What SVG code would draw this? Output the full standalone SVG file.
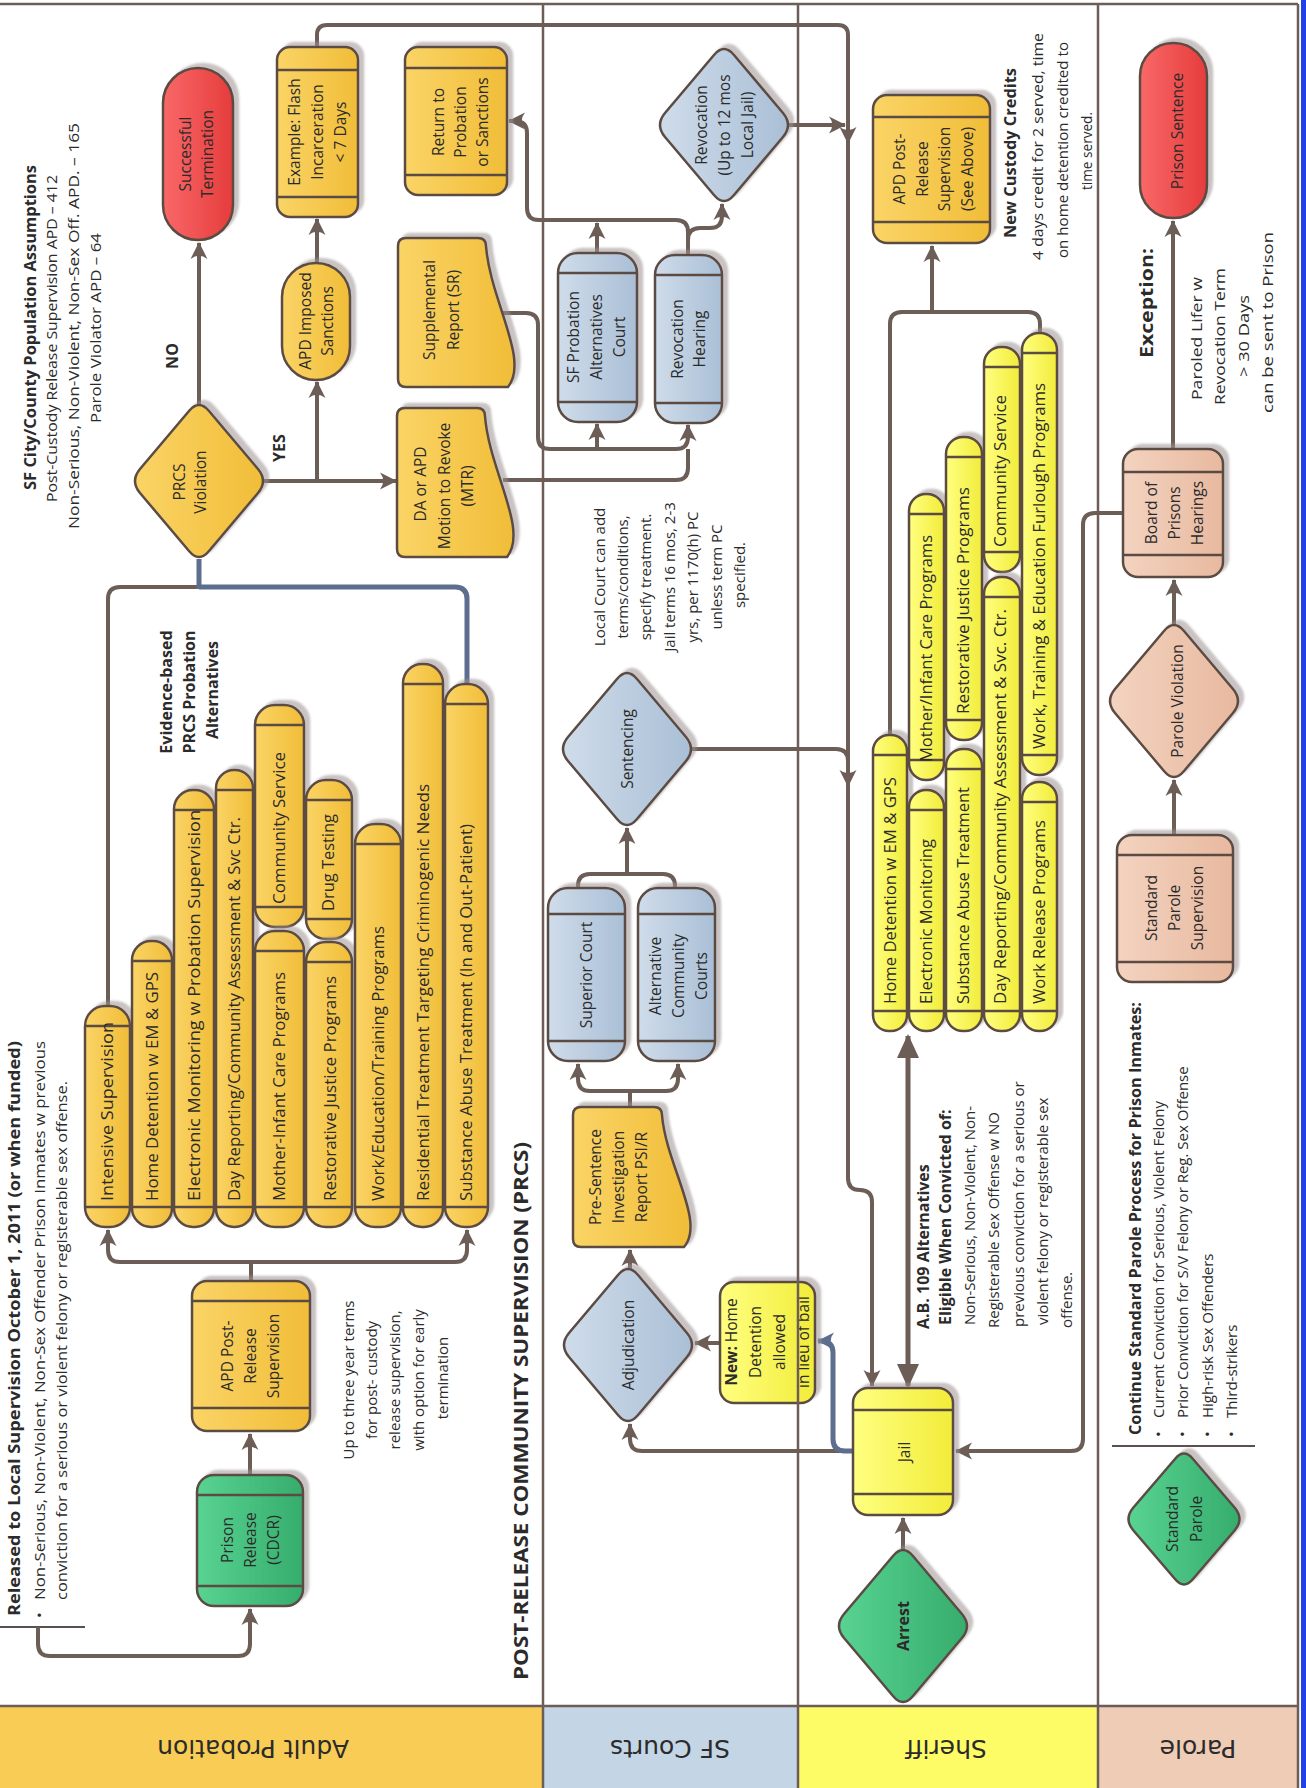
<svg xmlns="http://www.w3.org/2000/svg" width="1306" height="1788" viewBox="0 0 1306 1788">
<defs>
<linearGradient id="gGold" x1="0" y1="0" x2="1" y2="0"><stop offset="0" stop-color="#FAD466"/><stop offset="1" stop-color="#F1BD38"/></linearGradient>
<linearGradient id="gBlue" x1="0" y1="0" x2="1" y2="0"><stop offset="0" stop-color="#CFDCEA"/><stop offset="1" stop-color="#AABFD6"/></linearGradient>
<linearGradient id="gYel" x1="0" y1="0" x2="1" y2="0"><stop offset="0" stop-color="#FFFF80"/><stop offset="1" stop-color="#F2EC3A"/></linearGradient>
<linearGradient id="gPeach" x1="0" y1="0" x2="1" y2="0"><stop offset="0" stop-color="#F3D3C0"/><stop offset="1" stop-color="#E8B99F"/></linearGradient>
<linearGradient id="gGreen" x1="0" y1="0" x2="1" y2="0"><stop offset="0" stop-color="#58D392"/><stop offset="1" stop-color="#36AD6C"/></linearGradient>
<linearGradient id="gRed" x1="0" y1="0" x2="1" y2="0"><stop offset="0" stop-color="#F96868"/><stop offset="1" stop-color="#E63C3C"/></linearGradient>
<filter id="sh" x="-20%" y="-20%" width="140%" height="140%"><feDropShadow dx="5" dy="-4" stdDeviation="1.2" flood-color="#9d9191" flood-opacity="0.55"/></filter>
<marker id="ah" viewBox="0 0 18 20" refX="17" refY="10" markerWidth="17" markerHeight="19" markerUnits="userSpaceOnUse" orient="auto"><path d="M0,1 L18,10 L0,19 Q7,10 0,1Z" fill="#6c5d57"/></marker>
<marker id="ahb" viewBox="0 0 18 20" refX="17" refY="10" markerWidth="17" markerHeight="19" markerUnits="userSpaceOnUse" orient="auto"><path d="M0,1 L18,10 L0,19 Q7,10 0,1Z" fill="#5d6d8d"/></marker>
<marker id="tri" viewBox="0 0 24 22" refX="22" refY="11" markerWidth="24" markerHeight="22" markerUnits="userSpaceOnUse" orient="auto-start-reverse"><path d="M0,0 L24,11 L0,22Z" fill="#6c5d57"/></marker>
<path id="dia" d="M10,-70 L59,-12 Q69,0 59,12 L10,70 Q0,82 -10,70 L-59,12 Q-69,0 -59,-12 L-10,-70 Q0,-82 10,-70Z"/>
<path id="diaS" d="M9,-60 L51,-11 Q60,0 51,11 L9,60 Q0,71 -9,60 L-51,11 Q-60,0 -51,-11 L-9,-60 Q0,-71 9,-60Z"/>
</defs>
<style>
.t{font-family:"Open Sans","Liberation Sans",sans-serif;font-size:15.5px;fill:#2b2b2b}
.f{font-size:15px}
.bt{font-size:16px}
.m{text-anchor:middle}
.b{font-weight:bold;font-size:16px}
.s{stroke:#5b4b43;stroke-width:2.5}
.gold{fill:url(#gGold)}
.blue{fill:url(#gBlue)}
.yel{fill:url(#gYel)}
.peach{fill:url(#gPeach)}
.green{fill:url(#gGreen)}
.red{fill:url(#gRed)}
.sh{filter:url(#sh)}
.bar{stroke:#5b4b43;stroke-width:2.5;fill:none}
.c{fill:none;stroke:#6c5d57;stroke-width:4}
.a{marker-end:url(#ah)}
.cb{fill:none;stroke:#5d6d8d;stroke-width:5}
.ln{fill:none;stroke:#6c5d57;stroke-width:2.5}
.lbl{font-family:"DejaVu Sans",Verdana,sans-serif;font-size:25px;fill:#2b2b2b;text-anchor:middle}
</style>
<rect x="0" y="0" width="1306" height="1788" fill="#ffffff"/>
<g id="lane-bands">
<rect x="0" y="1706" width="543" height="82" fill="#F9CD55"/>
<rect x="543" y="1706" width="255" height="82" fill="#C4D5E6"/>
<rect x="798" y="1706" width="300" height="82" fill="#FDFC66"/>
<rect x="1098" y="1706" width="200" height="82" fill="#EFCCB6"/>
<text class="lbl" transform="translate(253,1749) rotate(180)" y="9">Adult Probation</text>
<text class="lbl" transform="translate(670,1749) rotate(180)" y="9">SF Courts</text>
<text class="lbl" transform="translate(946,1749) rotate(180)" y="9">Sheriff</text>
<text class="lbl" transform="translate(1198,1749) rotate(180)" y="9">Parole</text>
</g>

<g id="notes">
<text class="t b" transform="rotate(-90)" x="-490" y="36" textLength="325" lengthAdjust="spacingAndGlyphs">SF City/County Population Assumptions</text>
<text class="t f" transform="rotate(-90)" x="-502" y="57" textLength="327" lengthAdjust="spacingAndGlyphs">Post-Custody Release Supervision APD – 412</text>
<text class="t f" transform="rotate(-90)" x="-529" y="79" textLength="406" lengthAdjust="spacingAndGlyphs">Non-Serious, Non-Violent, Non-Sex Off. APD. – 165</text>
<text class="t f" transform="rotate(-90)" x="-423" y="101" textLength="190" lengthAdjust="spacingAndGlyphs">Parole Violator APD – 64</text>
<text class="t m b" transform="rotate(-90)" x="-356" y="178">NO</text>
<text class="t m b" transform="rotate(-90)" x="-448" y="285">YES</text>
<text class="t m b" transform="rotate(-90)">
<tspan x="-690" y="172">Evidence-based</tspan>
<tspan x="-690" y="195">PRCS Probation</tspan>
<tspan x="-690" y="218">Alternatives</tspan>
</text>
<text class="t m f" transform="rotate(-90)">
<tspan x="-575" y="605">Local Court can add</tspan>
<tspan x="-575" y="628">terms/conditions,</tspan>
<tspan x="-575" y="651">specify treatment.</tspan>
<tspan x="-575" y="675">Jail terms 16 mos, 2-3</tspan>
<tspan x="-575" y="698">yrs, per 1170(h) PC</tspan>
<tspan x="-575" y="722">unless term PC</tspan>
<tspan x="-575" y="745">specified.</tspan>
</text>
<text class="t b" transform="rotate(-90)" x="-1680" y="528" style="font-size:20px" textLength="538" lengthAdjust="spacingAndGlyphs">POST-RELEASE COMMUNITY SUPERVISION (PRCS)</text>
<text class="t m f" transform="rotate(-90)">
<tspan x="-1378" y="354">Up to three year terms</tspan>
<tspan x="-1378" y="377">for post- custody</tspan>
<tspan x="-1378" y="400">release supervision,</tspan>
<tspan x="-1378" y="424">with option for early</tspan>
<tspan x="-1378" y="448">termination</tspan>
</text>
<text class="t b" transform="rotate(-90)" x="-1616" y="20" textLength="575" lengthAdjust="spacingAndGlyphs">Released to Local Supervision October 1, 2011 (or when funded)</text>
<text class="t f" transform="rotate(-90)" x="-1618" y="45">•</text>
<text class="t f" transform="rotate(-90)" x="-1600" y="45" textLength="559" lengthAdjust="spacingAndGlyphs">Non-Serious, Non-Violent, Non-Sex Offender Prison Inmates w previous</text>
<text class="t f" transform="rotate(-90)" x="-1600" y="67" textLength="519" lengthAdjust="spacingAndGlyphs">conviction for a serious or violent felony or registerable sex offense.</text>
<text class="t b" transform="rotate(-90)" x="-238" y="1016" textLength="170" lengthAdjust="spacingAndGlyphs">New Custody Credits</text>
<text class="t f" transform="rotate(-90)" x="-260" y="1043" textLength="227" lengthAdjust="spacingAndGlyphs">4 days credit for 2 served, time</text>
<text class="t f" transform="rotate(-90)" x="-258" y="1068" textLength="216" lengthAdjust="spacingAndGlyphs">on home detention credited to</text>
<text class="t f" transform="rotate(-90)" x="-190" y="1092" textLength="78" lengthAdjust="spacingAndGlyphs">time served.</text>
<text class="t f" transform="rotate(-90)">
<tspan class="b" x="-1329" y="929">A.B. 109 Alternatives</tspan>
<tspan class="b" x="-1325" y="951">Eligible When Convicted of:</tspan>
<tspan x="-1325" y="975">Non-Serious, Non-Violent, Non-</tspan>
<tspan x="-1328" y="999">Registerable Sex Offense w NO</tspan>
<tspan x="-1327" y="1024">previous conviction for a serious or</tspan>
<tspan x="-1325" y="1048">violent felony or registerable sex</tspan>
<tspan x="-1328" y="1072">offense.</tspan>
</text>
<text class="t b" transform="rotate(-90)" x="-1435" y="1141" textLength="433" lengthAdjust="spacingAndGlyphs">Continue Standard Parole Process for Prison Inmates:</text>
<text class="t f" transform="rotate(-90)">
<tspan x="-1437" y="1164">•</tspan><tspan x="-1418" y="1164">Current Conviction for Serious, Violent Felony</tspan>
<tspan x="-1437" y="1188">•</tspan><tspan x="-1418" y="1188">Prior Conviction for S/V Felony or Reg. Sex Offense</tspan>
<tspan x="-1437" y="1213">•</tspan><tspan x="-1418" y="1213">High-risk Sex Offenders</tspan>
<tspan x="-1437" y="1237">•</tspan><tspan x="-1418" y="1237">Third-strikers</tspan>
</text>
<path d="M1112,1446 H1255" stroke="#5b5050" stroke-width="2"/>
<text class="t b" transform="rotate(-90)" x="-358" y="1153" style="font-size:17px" textLength="110" lengthAdjust="spacingAndGlyphs">Exception:</text>
<text class="t f" transform="rotate(-90)" x="-400" y="1202" textLength="123" lengthAdjust="spacingAndGlyphs">Paroled Lifer w</text>
<text class="t f" transform="rotate(-90)" x="-405" y="1225" textLength="137" lengthAdjust="spacingAndGlyphs">Revocation Term</text>
<text class="t f" transform="rotate(-90)" x="-377" y="1249" textLength="82" lengthAdjust="spacingAndGlyphs">&gt; 30 Days</text>
<text class="t f" transform="rotate(-90)" x="-413" y="1273" textLength="181" lengthAdjust="spacingAndGlyphs">can be sent to Prison</text>
</g>

<g id="connectors">
<path class="c a" d="M199,405 V243"/>
<path class="c a" d="M263,481 H396"/>
<path class="c a" d="M317,481 V382"/>
<path class="c a" d="M317,263 V219"/>
<path class="c a" d="M317,47 V35 Q317,25 327,25 H838 Q848,25 848,35 V1178 Q848,1190 860,1190 Q872,1190 872,1202 V1386"/>
<path class="c a" d="M848,120 V143"/>
<path class="c a" d="M848,762 V786"/>
<path class="c a" d="M788,125 H845"/>
<path class="c" d="M691,749 H836 Q848,749 848,761"/>
<path class="c a" d="M502,313 H526 Q538,313 538,325 V437 Q538,449 550,449 H676 Q688,449 688,437 V425"/>
<path class="c" d="M503,480 H676 Q688,480 688,468 V449"/>
<path class="c a" d="M597,449 V424"/>
<path class="c a" d="M688,255 V232 Q688,220 676,220 H539 Q527,220 527,208 V133 Q527,121 515,121 H509"/>
<path class="c a" d="M597,253 V223"/>
<path class="c a" d="M688,240 Q688,228 700,228 H710 Q722,228 722,216 V204"/>
<path class="c" d="M108,1006 V599 Q108,587 120,587 H199"/>
<path class="cb" d="M467,684 V599 Q467,587 455,587 H199 M199,589 V559"/>
<path class="c" d="M251,1281 V1262"/>
<path class="c a" d="M251,1262 H120 Q108,1262 108,1250 V1230"/>
<path class="c a" d="M251,1262 H455 Q467,1262 467,1250 V1230"/>
<path class="c a" d="M250,1475 V1434"/>
<path d="M0,1627 H85" stroke="#5b5050" stroke-width="2"/>
<path class="c a" d="M38,1627 V1644 Q38,1656 50,1656 H238 Q250,1656 250,1644 V1609"/>
<path class="c" d="M630,1107 V1091"/>
<path class="c a" d="M630,1091 H590 Q578,1091 578,1079 V1064"/>
<path class="c a" d="M630,1091 H666 Q678,1091 678,1079 V1064"/>
<path class="c" d="M578,888 V886 Q578,874 590,874 H663 Q675,874 675,886 V888"/>
<path class="c a" d="M627,874 V828"/>
<path class="c a" d="M630,1269 V1250"/>
<path class="c a" d="M853,1451 H642 Q630,1451 630,1439 V1424"/>
<path class="cb" style="marker-end:url(#ahb)" d="M853,1451 H845 Q833,1451 833,1439 V1353 Q833,1341 821,1341 H818"/>
<path class="c a" d="M720,1343 H695"/>
<path class="c a" d="M903,1550 V1518"/>
<path class="c a" d="M1123,513 H1095 Q1083,513 1083,525 V1439 Q1083,1451 1071,1451 H956"/>
<path class="c" style="stroke-width:5;marker-start:url(#tri);marker-end:url(#tri)" d="M908,1036 V1386"/>
<path class="c" d="M890,735 V324 Q890,312 902,312 H1028 Q1040,312 1040,324 V333"/>
<path class="c a" d="M932,312 V246"/>
<path class="c a" d="M1173,449 V221"/>
<path class="c a" d="M1174,625 V580"/>
<path class="c a" d="M1174,835 V780"/>
</g>

<g id="successful-termination">
<rect class="s red sh" x="163" y="68" width="70" height="172" rx="35"/>
<text class="t m" transform="rotate(-90)"><tspan x="-154" y="191">Successful</tspan><tspan x="-154" y="213">Termination</tspan></text>
</g>
<g id="flash-incarceration">
<rect class="s gold sh" x="277" y="47" width="81" height="170" rx="13"/>
<path class="bar" d="M277,70 H358 M277,197 H358"/>
<text class="t m" transform="rotate(-90)"><tspan x="-132" y="300">Example: Flash</tspan><tspan x="-132" y="323">Incarceration</tspan><tspan x="-132" y="346">&lt; 7 Days</tspan></text>
</g>
<g id="apd-imposed-sanctions">
<rect class="s gold sh" x="282" y="263" width="68" height="117" rx="34"/>
<text class="t m" transform="rotate(-90)"><tspan x="-321" y="311">APD Imposed</tspan><tspan x="-321" y="333">Sanctions</tspan></text>
</g>
<g id="return-to-probation">
<rect class="s gold sh" x="405" y="47" width="102" height="148" rx="13"/>
<path class="bar" d="M405,68 H507 M405,175 H507"/>
<text class="t m" transform="rotate(-90)"><tspan x="-122" y="444">Return to</tspan><tspan x="-122" y="466">Probation</tspan><tspan x="-122" y="488">or Sanctions</tspan></text>
</g>
<g id="supplemental-report">
<path class="s gold sh" d="M406,238 H478 Q486,238 486,246 C490,300 530,360 508,387 H406 Q398,387 398,379 V246 Q398,238 406,238 Z"/>
<text class="t m" transform="rotate(-90)"><tspan x="-310" y="435">Supplemental</tspan><tspan x="-310" y="459">Report (SR)</tspan></text>
</g>
<g id="motion-to-revoke">
<path class="s gold sh" d="M405,408 H477 Q485,408 485,416 C489,470 529,530 507,557 H405 Q397,557 397,549 V416 Q397,408 405,408 Z"/>
<text class="t m" transform="rotate(-90)"><tspan x="-484" y="426">DA or APD</tspan><tspan x="-486" y="450">Motion to Revoke</tspan><tspan x="-486" y="473">(MTR)</tspan></text>
</g>
<g id="prcs-violation">
<use href="#dia" x="199" y="481" class="s gold sh"/>
<text class="t m" transform="rotate(-90)"><tspan x="-482" y="185">PRCS</tspan><tspan x="-482" y="206">Violation</tspan></text>
</g>
<g id="sf-probation-alternatives-court">
<rect class="s blue sh" x="558" y="253" width="79" height="169" rx="20"/>
<path class="bar" d="M558,273 H637 M558,402 H637"/>
<text class="t m" transform="rotate(-90)"><tspan x="-337" y="579">SF Probation</tspan><tspan x="-337" y="602">Alternatives</tspan><tspan x="-337" y="625">Court</tspan></text>
</g>
<g id="revocation-hearing">
<rect class="s blue sh" x="655" y="255" width="67" height="168" rx="20"/>
<path class="bar" d="M655,275 H722 M655,403 H722"/>
<text class="t m" transform="rotate(-90)"><tspan x="-339" y="683">Revocation</tspan><tspan x="-339" y="705">Hearing</tspan></text>
</g>
<g id="revocation">
<use href="#dia" x="724" y="125" class="s blue sh"/>
<text class="t m" transform="rotate(-90)"><tspan x="-125" y="707">Revocation</tspan><tspan x="-125" y="730">(Up to 12 mos</tspan><tspan x="-125" y="753">Local Jail)</tspan></text>
</g>
<g id="sentencing">
<use href="#dia" x="627" y="749" class="s blue sh"/>
<text class="t m" transform="rotate(-90)" x="-749" y="633">Sentencing</text>
</g>
<g id="superior-court">
<rect class="s blue sh" x="548" y="888" width="77" height="173" rx="20"/>
<path class="bar" d="M548,914 H625 M548,1041 H625"/>
<text class="t m" transform="rotate(-90)" x="-975" y="592">Superior Court</text>
</g>
<g id="alternative-community-courts">
<rect class="s blue sh" x="638" y="888" width="77" height="173" rx="20"/>
<path class="bar" d="M638,914 H715 M638,1041 H715"/>
<text class="t m" transform="rotate(-90)"><tspan x="-976" y="661">Alternative</tspan><tspan x="-976" y="684">Community</tspan><tspan x="-976" y="707">Courts</tspan></text>
</g>
<g id="pre-sentence-report">
<path class="s gold sh" d="M581,1107 H654 Q662,1107 662,1115 C666,1165 706,1222 684,1247 H581 Q573,1247 573,1239 V1115 Q573,1107 581,1107 Z"/>
<text class="t m" transform="rotate(-90)"><tspan x="-1177" y="601">Pre-Sentence</tspan><tspan x="-1177" y="624">Investigation</tspan><tspan x="-1177" y="647">Report PSI/R</tspan></text>
</g>
<g id="adjudication">
<use href="#dia" x="628" y="1345" class="s blue sh"/>
<text class="t m" transform="rotate(-90)" x="-1345" y="634">Adjudication</text>
</g>
<g id="home-detention-bail">
<rect class="s yel sh" x="720" y="1282" width="95" height="121" rx="14"/>
<text class="t m" transform="rotate(-90)"><tspan x="-1342" y="737"><tspan style="font-weight:bold">New:</tspan> Home</tspan><tspan x="-1342" y="761">Detention</tspan><tspan x="-1342" y="785">allowed</tspan><tspan x="-1342" y="809">in lieu of bail</tspan></text>
</g>

<g id="apd-alternatives">
<rect class="s gold sh" x="85" y="1006" width="45" height="221" rx="20"/>
<path class="bar" d="M85,1026 H130 M85,1207 H130"/>
<text class="t bt" transform="rotate(-90)" x="-1201" y="113" textLength="179" lengthAdjust="spacingAndGlyphs">Intensive Supervision</text>
<rect class="s gold sh" x="132" y="941" width="40" height="286" rx="19"/>
<path class="bar" d="M132,961 H172 M132,1207 H172"/>
<text class="t bt" transform="rotate(-90)" x="-1201" y="158" textLength="229" lengthAdjust="spacingAndGlyphs">Home Detention w EM &amp; GPS</text>
<rect class="s gold sh" x="174" y="790" width="40" height="437" rx="19"/>
<path class="bar" d="M174,810 H214 M174,1207 H214"/>
<text class="t bt" transform="rotate(-90)" x="-1201" y="200" textLength="391" lengthAdjust="spacingAndGlyphs">Electronic Monitoring w Probation Supervision</text>
<rect class="s gold sh" x="216" y="770" width="37" height="457" rx="18"/>
<path class="bar" d="M216,790 H253 M216,1207 H253"/>
<text class="t bt" transform="rotate(-90)" x="-1201" y="240" textLength="384" lengthAdjust="spacingAndGlyphs">Day Reporting/Community Assessment &amp; Svc Ctr.</text>
<rect class="s gold sh" x="255" y="705" width="49" height="222" rx="20"/>
<path class="bar" d="M255,725 H304 M255,907 H304"/>
<text class="t bt" transform="rotate(-90)" x="-904" y="285" textLength="152" lengthAdjust="spacingAndGlyphs">Community Service</text>
<rect class="s gold sh" x="255" y="931" width="49" height="296" rx="20"/>
<path class="bar" d="M255,951 H304 M255,1207 H304"/>
<text class="t bt" transform="rotate(-90)" x="-1201" y="285" textLength="229" lengthAdjust="spacingAndGlyphs">Mother-Infant Care Programs</text>
<rect class="s gold sh" x="306" y="780" width="46" height="159" rx="20"/>
<path class="bar" d="M306,800 H352 M306,919 H352"/>
<text class="t bt" transform="rotate(-90)" x="-911" y="334" textLength="97" lengthAdjust="spacingAndGlyphs">Drug Testing</text>
<rect class="s gold sh" x="306" y="942" width="46" height="285" rx="20"/>
<path class="bar" d="M306,962 H352 M306,1207 H352"/>
<text class="t bt" transform="rotate(-90)" x="-1201" y="336" textLength="225" lengthAdjust="spacingAndGlyphs">Restorative Justice Programs</text>
<rect class="s gold sh" x="355" y="824" width="46" height="403" rx="20"/>
<path class="bar" d="M355,844 H401 M355,1207 H401"/>
<text class="t bt" transform="rotate(-90)" x="-1201" y="384" textLength="275" lengthAdjust="spacingAndGlyphs">Work/Education/Training Programs</text>
<rect class="s gold sh" x="403" y="664" width="40" height="563" rx="19"/>
<path class="bar" d="M403,684 H443 M403,1207 H443"/>
<text class="t bt" transform="rotate(-90)" x="-1201" y="429" textLength="417" lengthAdjust="spacingAndGlyphs">Residential Treatment Targeting Criminogenic Needs</text>
<rect class="s gold sh" x="445" y="684" width="43" height="543" rx="20"/>
<path class="bar" d="M445,704 H488 M445,1207 H488"/>
<text class="t bt" transform="rotate(-90)" x="-1201" y="472" textLength="377" lengthAdjust="spacingAndGlyphs">Substance Abuse Treatment (In and Out-Patient)</text>
</g>

<g id="apd-post-release">
<rect class="s gold sh" x="192" y="1281" width="118" height="150" rx="15"/>
<path class="bar" d="M192,1301 H310 M192,1408 H310"/>
<text class="t m" transform="rotate(-90)"><tspan x="-1356" y="233">APD Post-</tspan><tspan x="-1356" y="256">Release</tspan><tspan x="-1356" y="279">Supervision</tspan></text>
</g>
<g id="prison-release">
<rect class="s green sh" x="197" y="1475" width="106" height="131" rx="17"/>
<path class="bar" d="M197,1495 H303 M197,1586 H303"/>
<text class="t m" transform="rotate(-90)"><tspan x="-1540" y="233">Prison</tspan><tspan x="-1540" y="256">Release</tspan><tspan x="-1540" y="279">(CDCR)</tspan></text>
</g>

<g id="jail">
<rect class="s yel sh" x="853" y="1388" width="100" height="127" rx="15"/>
<path class="bar" d="M853,1410 H953 M853,1494 H953"/>
<text class="t m" transform="rotate(-90)" x="-1452" y="910">Jail</text>
</g>
<g id="arrest">
<use href="#dia" x="903" y="1626" class="s green sh"/>
<text class="t m b" transform="rotate(-90)" x="-1626" y="909">Arrest</text>
</g>
<g id="apd-post-release-see-above">
<rect class="s gold sh" x="873" y="95" width="117" height="148" rx="14"/>
<path class="bar" d="M873,117 H990 M873,222 H990"/>
<text class="t m" transform="rotate(-90)"><tspan x="-169" y="905">APD Post-</tspan><tspan x="-169" y="928">Release</tspan><tspan x="-169" y="950">Supervision</tspan><tspan x="-169" y="973">(See Above)</tspan></text>
</g>
<g id="sheriff-alternatives">
<rect class="s yel sh" x="873" y="735" width="34" height="296" rx="16"/>
<path class="bar" d="M873,755 H907 M873,1011 H907"/>
<text class="t bt" transform="rotate(-90)" x="-1004" y="896" textLength="227" lengthAdjust="spacingAndGlyphs">Home Detention w EM &amp; GPS</text>
<rect class="s yel sh" x="909" y="494" width="35" height="286" rx="17"/>
<path class="bar" d="M909,514 H944 M909,760 H944"/>
<text class="t bt" transform="rotate(-90)" x="-762" y="932" textLength="227" lengthAdjust="spacingAndGlyphs">Mother/Infant Care Programs</text>
<rect class="s yel sh" x="909" y="790" width="35" height="241" rx="17"/>
<path class="bar" d="M909,810 H944 M909,1011 H944"/>
<text class="t bt" transform="rotate(-90)" x="-1004" y="932" textLength="165" lengthAdjust="spacingAndGlyphs">Electronic Monitoring</text>
<rect class="s yel sh" x="946" y="437" width="36" height="303" rx="17"/>
<path class="bar" d="M946,457 H982 M946,720 H982"/>
<text class="t bt" transform="rotate(-90)" x="-714" y="969" textLength="227" lengthAdjust="spacingAndGlyphs">Restorative Justice Programs</text>
<rect class="s yel sh" x="946" y="749" width="36" height="282" rx="17"/>
<path class="bar" d="M946,769 H982 M946,1011 H982"/>
<text class="t bt" transform="rotate(-90)" x="-1004" y="969" textLength="217" lengthAdjust="spacingAndGlyphs">Substance Abuse Treatment</text>
<rect class="s yel sh" x="984" y="347" width="36" height="225" rx="17"/>
<path class="bar" d="M984,367 H1020 M984,552 H1020"/>
<text class="t bt" transform="rotate(-90)" x="-547" y="1006" textLength="152" lengthAdjust="spacingAndGlyphs">Community Service</text>
<rect class="s yel sh" x="984" y="577" width="36" height="454" rx="17"/>
<path class="bar" d="M984,597 H1020 M984,1011 H1020"/>
<text class="t bt" transform="rotate(-90)" x="-1004" y="1006" textLength="395" lengthAdjust="spacingAndGlyphs">Day Reporting/Community Assessment &amp; Svc. Ctr.</text>
<rect class="s yel sh" x="1022" y="333" width="35" height="442" rx="17"/>
<path class="bar" d="M1022,353 H1057 M1022,755 H1057"/>
<text class="t bt" transform="rotate(-90)" x="-749" y="1045" textLength="366" lengthAdjust="spacingAndGlyphs">Work, Training &amp; Education Furlough Programs</text>
<rect class="s yel sh" x="1022" y="782" width="35" height="249" rx="17"/>
<path class="bar" d="M1022,802 H1057 M1022,1011 H1057"/>
<text class="t bt" transform="rotate(-90)" x="-1004" y="1045" textLength="184" lengthAdjust="spacingAndGlyphs">Work Release Programs</text>
</g>

<g id="prison-sentence">
<rect class="s red sh" x="1140" y="43" width="67" height="175" rx="33"/>
<text class="t m" transform="rotate(-90)" x="-131" y="1183">Prison Sentence</text>
</g>
<g id="board-of-prisons-hearings">
<rect class="s peach sh" x="1123" y="449" width="100" height="128" rx="15"/>
<path class="bar" d="M1123,472 H1223 M1123,555 H1223"/>
<text class="t m" transform="rotate(-90)"><tspan x="-513" y="1157">Board of</tspan><tspan x="-513" y="1180">Prisons</tspan><tspan x="-513" y="1203">Hearings</tspan></text>
</g>
<g id="parole-violation">
<use href="#dia" x="1174" y="701" class="s peach sh"/>
<text class="t m" transform="rotate(-90)" x="-701" y="1183">Parole Violation</text>
</g>
<g id="standard-parole-supervision">
<rect class="s peach sh" x="1117" y="835" width="116" height="147" rx="15"/>
<path class="bar" d="M1117,855 H1233 M1117,962 H1233"/>
<text class="t m" transform="rotate(-90)"><tspan x="-908" y="1157">Standard</tspan><tspan x="-908" y="1180">Parole</tspan><tspan x="-908" y="1203">Supervision</tspan></text>
</g>
<g id="standard-parole">
<use href="#diaS" x="1184" y="1519" class="s green sh"/>
<text class="t m" transform="rotate(-90)"><tspan x="-1519" y="1178">Standard</tspan><tspan x="-1519" y="1202">Parole</tspan></text>
</g>

<g id="lane-lines">
<path class="ln" d="M0,4 H1298 M543,4 V1788 M798,4 V1788 M1098,4 V1788 M1298,4 V1788 M0,1706 H1298"/>
<rect x="1301" y="0" width="5" height="1788" fill="#2040E8"/>
</g>
</svg>
